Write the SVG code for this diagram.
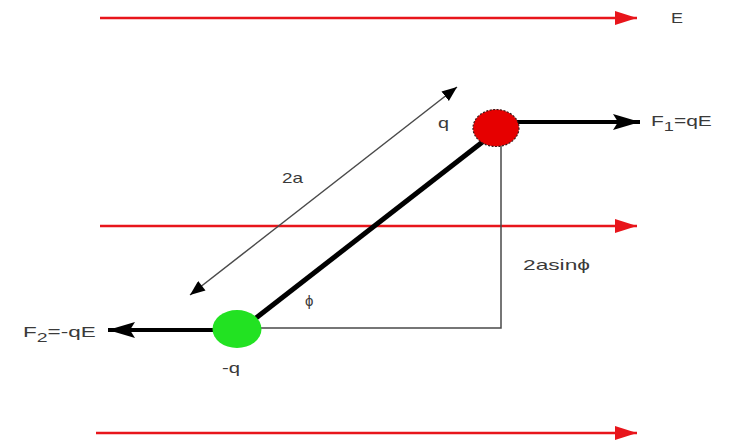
<svg xmlns="http://www.w3.org/2000/svg" width="731" height="443" viewBox="0 0 731 443">
<style>
.field{stroke:#e8151b;stroke-width:2.5;fill:none}
.thin{stroke:#4a4a4a;stroke-width:1.5;fill:none}
.force{stroke:#000;stroke-width:4;fill:none}
.rod{stroke:#000;stroke-width:5;fill:none}
text{font-family:"Liberation Sans",Arial,sans-serif;font-size:15px;fill:#3a3a3a}
</style>
<defs>
<marker id="redHead" markerUnits="userSpaceOnUse" markerWidth="24" markerHeight="16" refX="22" refY="7" orient="auto">
<path d="M0,0 L22,7 L0,14 Z" fill="#e8151b"/>
</marker>
<marker id="blackHead" markerUnits="userSpaceOnUse" markerWidth="28" markerHeight="18" refX="27" refY="8" orient="auto">
<path d="M0,0 L27,8 L0,16 L5,8 Z" fill="#000"/>
</marker>
<marker id="thinHead" markerUnits="userSpaceOnUse" markerWidth="16" markerHeight="14" refX="15" refY="6" orient="auto">
<path d="M0,0 L15,6 L0,12 Z" fill="#000"/>
</marker>
<marker id="thinTail" markerUnits="userSpaceOnUse" markerWidth="16" markerHeight="14" refX="0" refY="6" orient="auto">
<path d="M15,0 L0,6 L15,12 Z" fill="#000"/>
</marker>
</defs>
<rect width="731" height="443" fill="#fff"/>
<g id="connectors">
<line id="field-top" class="field" x1="100" y1="18" x2="637" y2="18" marker-end="url(#redHead)"/>
<line id="field-mid" class="field" x1="100" y1="226" x2="637" y2="226" marker-end="url(#redHead)"/>
<line id="field-bot" class="field" x1="96" y1="433" x2="637" y2="433" marker-end="url(#redHead)"/>
<line id="length-2a" class="thin" x1="190" y1="295" x2="457" y2="87" marker-start="url(#thinTail)" marker-end="url(#thinHead)"/>
<polyline id="height-guide" class="thin" points="501,146 501,328 258,328"/>
<line id="rod" class="rod" x1="256" y1="318" x2="485" y2="140"/>
<line id="force1" class="force" x1="515" y1="122" x2="640" y2="122" marker-end="url(#blackHead)"/>
<line id="force2" class="force" x1="215" y1="330" x2="108" y2="330" marker-end="url(#blackHead)"/>
</g>
<g id="charge-pos">
<ellipse cx="496" cy="128" rx="23" ry="18.5" fill="#e60000" stroke="#3a1a1a" stroke-width="1.2" stroke-dasharray="2 1.5"/>
<text x="438" y="128" textLength="11" lengthAdjust="spacingAndGlyphs">q</text>
</g>
<g id="charge-neg">
<ellipse cx="237" cy="329" rx="24.5" ry="19" fill="#22e222"/>
<text x="222" y="373" textLength="18" lengthAdjust="spacingAndGlyphs">-q</text>
</g>
<g id="label-E"><text x="671" y="23" textLength="12" lengthAdjust="spacingAndGlyphs">E</text></g>
<g id="label-F1"><text transform="translate(651,126) scale(1.4,1)">F<tspan font-size="13" dy="5">1</tspan><tspan dy="-5">=qE</tspan></text></g>
<g id="label-F2"><text transform="translate(23,337) scale(1.5,1)">F<tspan font-size="13" dy="5">2</tspan><tspan dy="-5">=-qE</tspan></text></g>
<g id="label-2a"><text x="282" y="183" textLength="21" lengthAdjust="spacingAndGlyphs">2a</text></g>
<g id="label-phi"><text x="305" y="306" font-size="11">ϕ</text></g>
<g id="label-2asin"><text x="523" y="270" textLength="67" lengthAdjust="spacingAndGlyphs">2asinϕ</text></g>
</svg>
